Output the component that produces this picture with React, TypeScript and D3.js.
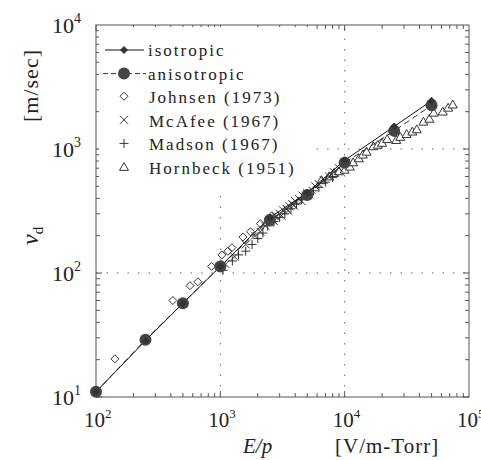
import React from "react";
import * as d3 from "d3";

// model curves: E/p [V/m-Torr] -> drift velocity [m/sec]
const modelEp = [100, 250, 500, 1000, 2500, 5000, 10000, 25000, 50000];
const isotropicVd = [11, 28.5, 57, 113, 280, 445, 810, 1520, 2450];
const anisotropicVd = [11, 29, 57, 113, 268, 425, 775, 1400, 2250];

// measurements [E/p, vd]
const johnsen: [number, number][] = [
  [142, 20.3], [415, 60], [570, 79], [660, 85], [850, 113], [1030, 140],
  [1150, 150], [1240, 160], [1520, 195], [1750, 215], [2100, 250], [2600, 290],
];
const mcafee: [number, number][] = [
  [1100, 118], [1300, 135], [1600, 170], [1900, 200], [2100, 215], [2300, 240],
  [2500, 255], [2600, 270], [2700, 262], [2800, 285], [3000, 300], [3100, 290],
  [3200, 320], [3400, 330], [3500, 318], [3600, 345], [3800, 360], [3900, 350],
  [4000, 380], [4300, 395], [4500, 380], [4600, 420], [5000, 440], [5200, 430],
  [5400, 470], [5800, 500], [6200, 520], [6800, 560], [7500, 600], [8200, 650], [9000, 700],
];
const madson: [number, number][] = [
  [1050, 105], [1250, 125], [1400, 140], [1600, 150], [1800, 170], [2000, 190],
  [2200, 210], [2400, 240], [2700, 260], [3000, 280], [3300, 300], [3700, 330],
  [4100, 360], [4500, 390], [5000, 420], [5600, 460], [6200, 490], [7000, 540], [8000, 590],
];
const hornbeck: [number, number][] = [
  [6500, 560], [7500, 600], [8200, 640], [9000, 660], [10000, 680], [11000, 720],
  [11700, 780], [13000, 840], [14000, 900], [15000, 950], [17000, 1050], [18500, 1080],
  [20000, 1120], [22000, 1200], [26000, 1180], [28000, 1250], [31500, 1320], [35000, 1380],
  [38000, 1440], [43000, 1660], [48000, 1750], [52000, 1960], [61500, 2000], [68000, 2150],
  [74000, 2280],
];

const xDecades = [2, 3, 4, 5];
const yDecades = [1, 2, 3, 4];
const gridX = [1000, 10000];
const gridY = [100, 1000];

const legendLabels = ["isotropic", "anisotropic", "Johnsen (1973)", "McAfee (1967)", "Madson (1967)", "Hornbeck (1951)"];

const W = 481;
const H = 460;
const ink = "#333";
const serif = "'Liberation Serif', 'DejaVu Serif', serif";

const x = d3.scaleLog().domain([100, 1e5]).range([96, 469]);
const y = d3.scaleLog().domain([10, 1e4]).range([397, 25]);

// marker shapes
const Diamond = ({ cx, cy, r = 4, fill = "none" }: any) => (
  <path d={`M${cx},${cy - r}L${cx + r},${cy}L${cx},${cy + r}L${cx - r},${cy}Z`} fill={fill} stroke={ink} strokeWidth={1} />
);
const Cross = ({ cx, cy, r = 4 }: any) => (
  <path d={`M${cx - r},${cy - r}L${cx + r},${cy + r}M${cx - r},${cy + r}L${cx + r},${cy - r}`} stroke={ink} strokeWidth={1} />
);
const Plus = ({ cx, cy, r = 4.5 }: any) => (
  <path d={`M${cx - r},${cy}L${cx + r},${cy}M${cx},${cy - r}L${cx},${cy + r}`} stroke={ink} strokeWidth={1} />
);
const Tri = ({ cx, cy, r = 4.5 }: any) => (
  <path d={`M${cx},${cy - r}L${cx + r},${cy + r * 0.75}L${cx - r},${cy + r * 0.75}Z`} fill="white" stroke={ink} strokeWidth={1} />
);

export default function App() {
  const [x0, x1] = x.range();
  const [y0, y1] = y.range();

  const line = d3.line<number>().x((_, i) => x(modelEp[i])).y((d) => y(d));

  const xMinor: number[] = [];
  for (let e = 2; e < 5; e++) for (let k = 1; k < 10; k++) xMinor.push(k * 10 ** e);
  const yMinor: number[] = [];
  for (let e = 1; e < 4; e++) for (let k = 1; k < 10; k++) yMinor.push(k * 10 ** e);

  const legX = 124;
  const legY0 = 50;
  const legDy = 23.6;

  return (
    <svg width={W} height={H} style={{ position: "absolute", left: 0, top: 0, background: "white" }} fontFamily={serif}>
      {/* grid */}
      {gridX.map((v) => (
        <line key={"gx" + v} x1={x(v)} x2={x(v)} y1={y0} y2={y1} stroke="#666" strokeWidth={1} strokeDasharray="1.5,9" />
      ))}
      {gridY.map((v) => (
        <line key={"gy" + v} x1={x0} x2={x1} y1={y(v)} y2={y(v)} stroke="#666" strokeWidth={1} strokeDasharray="1.5,9" />
      ))}

      {/* frame + ticks */}
      <rect x={x0} y={y1} width={x1 - x0} height={y0 - y1} fill="none" stroke="#555" strokeWidth={1} />
      {xMinor.map((v) => {
        const len = String(v)[0] === "1" ? 6 : 4;
        return (
          <g key={"xt" + v}>
            <line x1={x(v)} x2={x(v)} y1={y0} y2={y0 - len} stroke="#555" />
            <line x1={x(v)} x2={x(v)} y1={y1} y2={y1 + len} stroke="#555" />
          </g>
        );
      })}
      {yMinor.map((v) => {
        const len = String(v)[0] === "1" ? 6 : 4;
        return (
          <g key={"yt" + v}>
            <line x1={x0} x2={x0 + len} y1={y(v)} y2={y(v)} stroke="#555" />
            <line x1={x1} x2={x1 - len} y1={y(v)} y2={y(v)} stroke="#555" />
          </g>
        );
      })}

      {/* measurements */}
      {hornbeck.map(([e, v], i) => <Tri key={"h" + i} cx={x(e)} cy={y(v)} />)}
      {johnsen.map(([e, v], i) => <Diamond key={"j" + i} cx={x(e)} cy={y(v)} />)}
      {mcafee.map(([e, v], i) => <Cross key={"m" + i} cx={x(e)} cy={y(v)} />)}
      {madson.map(([e, v], i) => <Plus key={"p" + i} cx={x(e)} cy={y(v)} />)}

      {/* model curves */}
      <path d={line(anisotropicVd) || ""} fill="none" stroke={ink} strokeWidth={1} strokeDasharray="6,4" />
      <path d={line(isotropicVd) || ""} fill="none" stroke="#111" strokeWidth={1} />
      {anisotropicVd.map((v, i) => <circle key={"a" + i} cx={x(modelEp[i])} cy={y(v)} r={6} fill="#444" />)}
      {isotropicVd.map((v, i) => <Diamond key={"i" + i} cx={x(modelEp[i])} cy={y(v)} r={3.5} fill="#333" />)}

      {/* legend */}
      <rect x={99} y={27} width={212} height={160} fill="white" />
      {legendLabels.map((lab, i) => {
        const ly = legY0 + i * legDy;
        return (
          <g key={lab}>
            {i === 0 && (
              <>
                <line x1={105} x2={144} y1={ly} y2={ly} stroke="#111" />
                <Diamond cx={legX} cy={ly} r={3.5} fill="#333" />
              </>
            )}
            {i === 1 && (
              <>
                <line x1={103} x2={146} y1={ly} y2={ly} stroke={ink} strokeDasharray="5,3" />
                <circle cx={legX} cy={ly} r={6} fill="#444" />
              </>
            )}
            {i === 2 && <Diamond cx={legX} cy={ly - 1} r={4} />}
            {i === 3 && <Cross cx={legX} cy={ly - 1} />}
            {i === 4 && <Plus cx={legX} cy={ly - 1} />}
            {i === 5 && <Tri cx={legX} cy={ly - 1} />}
            <text x={i < 2 ? 148 : 149} y={ly + 6} fontSize={17} letterSpacing={2} fill="#222">
              {lab}
            </text>
          </g>
        );
      })}

      {/* tick labels */}
      {xDecades.map((d) => (
        <text key={"xl" + d} x={x(10 ** d) - 12} y={427} fontSize={21} fill="#222">
          10<tspan dy={-9} fontSize={13}>{d}</tspan>
        </text>
      ))}
      {yDecades.map((d) => (
        <text key={"yl" + d} x={52} y={y(10 ** d) + 8} fontSize={22} fill="#222">
          10<tspan dy={-10} fontSize={14}>{d}</tspan>
        </text>
      ))}

      {/* axis titles */}
      <text x={243} y={453} fontSize={21} fontStyle="italic" fill="#222">E/p</text>
      <text x={335} y={453} fontSize={21} letterSpacing={1} fill="#222">[V/m-Torr]</text>
      <text transform="translate(38,245) rotate(-90)" fontSize={24} fill="#222">
        <tspan fontStyle="italic">v</tspan>
        <tspan dy={5} fontSize={15}>d</tspan>
      </text>
      <text transform="translate(38,122) rotate(-90)" fontSize={22} letterSpacing={1} fill="#222">[m/sec]</text>
    </svg>
  );
}
